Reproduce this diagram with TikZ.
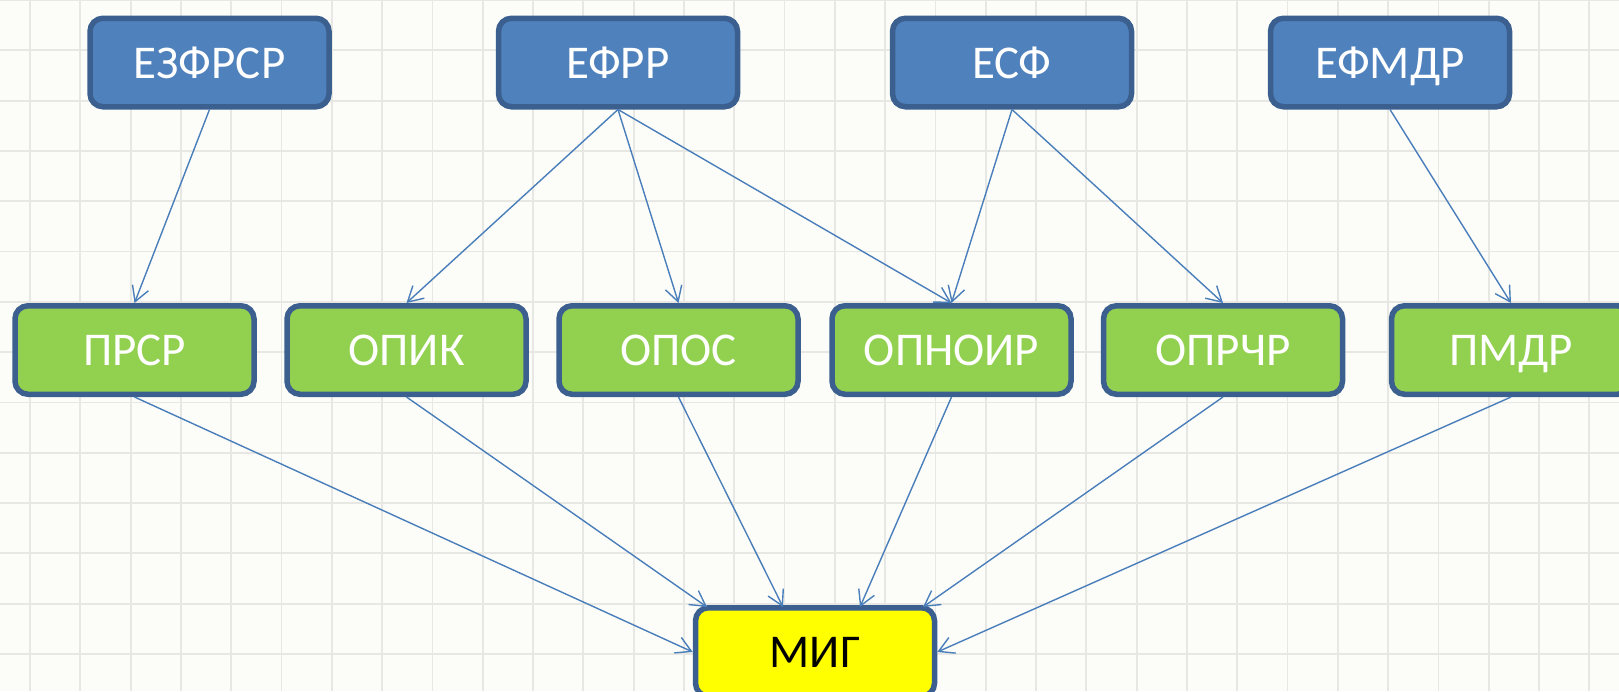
\documentclass[tikz,border=0pt]{standalone}
\usepackage{fontspec}
\setmainfont{Carlito}
\usetikzlibrary{arrows.meta,calc}
\definecolor{bgc}{HTML}{FCFDF8}
\definecolor{gridc}{HTML}{E7E8E3}
\definecolor{bordc}{HTML}{3B5F8E}
\definecolor{bluef}{HTML}{4F81BD}
\definecolor{greenf}{HTML}{92D050}
\definecolor{yellowf}{HTML}{FFFF00}
\definecolor{linec}{HTML}{4A7EBB}
\tikzset{
  box/.style={draw=bordc, line width=5.5pt, rounded corners=13pt,
    minimum width=239pt, minimum height=88.5pt, inner sep=0pt,
    text height=31pt, text depth=0pt, yshift=-1pt,
    font=\fontsize{47}{50}\selectfont, text=white},
  topbox/.style={box, fill=bluef},
  midbox/.style={box, fill=greenf},
  endbox/.style={box, fill=yellowf, text=black},
  arr/.style={draw=linec, line width=1.4pt,
    -{Straight Barb[length=15pt, width=17pt, line width=1.4pt]}},
}
\begin{document}
\begin{tikzpicture}[x=1pt, y=-1pt]
\useasboundingbox (0,0) rectangle (1619,691);
\fill[bgc] (0,0) rectangle (1619,691);
\foreach \i in {0,...,31} {
  \draw[gridc, line width=1.8pt] ({30+50.3*\i},0) -- ({30+50.3*\i},691);
}
\foreach \j in {0,...,13} {
  \draw[gridc, line width=1.8pt] (0,{50.3*\j}) -- (1619,{50.3*\j});
}
% top row
\node[topbox] (e1) at (209.5,61.5) {ЕЗФРСР};
\node[topbox] (e2) at (618,61.5) {ЕФРР};
\node[topbox] (e3) at (1012,61.5) {ЕСФ};
\node[topbox] (e4) at (1390,61.5) {ЕФМДР};
% middle row
\node[midbox] (p1) at (134.5,349) {ПРСР};
\node[midbox] (p2) at (406.5,349) {ОПИК};
\node[midbox] (p3) at (678.5,349) {ОПОС};
\node[midbox] (p4) at (951.5,349) {ОПНОИР};
\node[midbox] (p5) at (1223,349) {ОПРЧР};
\node[midbox] (p6) at (1511,349) {ПМДР};
% bottom
\node[endbox] (mig) at (815,651) {МИГ};
% top connectors
\draw[arr] (e1.south) -- (p1.north);
\draw[arr] (e2.south) -- (p2.north);
\draw[arr] (e2.south) -- (p3.north);
\draw[arr] (e2.south) -- (p4.north);
\draw[arr] (e3.south) -- (p4.north);
\draw[arr] (e3.south) -- (p5.north);
\draw[arr] (e4.south) -- (p6.north);
% bottom connectors
\draw[arr] (p1.south) -- (mig.west);
\draw[arr] (p2.south) -- ([xshift=-108pt,yshift=-2pt]mig.north);
\draw[arr] (p3.south) -- ([xshift=-32pt,yshift=-2pt]mig.north);
\draw[arr] (p4.south) -- ([xshift=45pt,yshift=-2pt]mig.north);
\draw[arr] (p5.south) -- ([xshift=108pt,yshift=-2pt]mig.north);
\draw[arr] (p6.south) -- (mig.east);
\end{tikzpicture}
\end{document}
